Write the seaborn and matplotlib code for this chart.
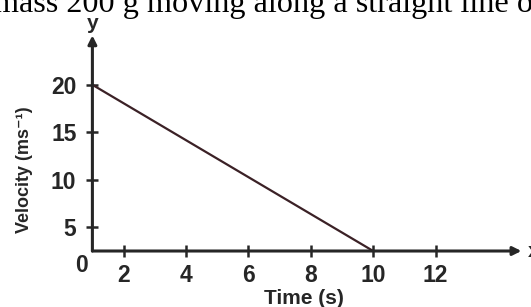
import numpy as np
import pandas as pd
import matplotlib
matplotlib.use("Agg")
import matplotlib.pyplot as plt
import seaborn as sns

# Data
time_s = [0, 10]
velocity = [20, 0]
x_ticks = [2, 4, 6, 8, 10, 12]
y_ticks = [5, 10, 15, 20]
caption = "mass 200 g moving along a straight line of"

sns.set_style("white")
plt.rcParams['font.family'] = ['Liberation Sans', 'DejaVu Sans']

df = pd.DataFrame({"time": time_s, "velocity": velocity})

# the sketch squeezes the first step of each axis (0-2 s, 0-5 m/s)
def fx(t):
    t = np.asarray(t, dtype=float)
    return np.where(t >= 2, t, 1 + t / 2)

def fx_inv(u):
    u = np.asarray(u, dtype=float)
    return np.where(u >= 2, u, (u - 1) * 2)

def fy(v):
    v = np.asarray(v, dtype=float)
    return np.where(v >= 5, v, 2.5 + v / 2)

def fy_inv(u):
    u = np.asarray(u, dtype=float)
    return np.where(u >= 5, u, (u - 2.5) * 2)

fig = plt.figure(figsize=(5.31, 3.07), dpi=100)
ax = fig.add_axes([0.174, 0.1824, 0.8226, 0.758])
ax.set_xscale("function", functions=(fx, fx_inv))
ax.set_yscale("function", functions=(fy, fy_inv))
ax.set_xlim(0, 15)
ax.set_ylim(0, 27)

ink = "#262626"
sns.lineplot(data=df, x="time", y="velocity", ax=ax, color="#3b2126", lw=1.6)

for s in ax.spines.values():
    s.set_visible(False)

# axes with arrow heads
ax.annotate("", xy=(14.75, 0), xytext=(0, 0),
            arrowprops=dict(arrowstyle="-|>,head_length=0.5,head_width=0.25",
                            lw=2.2, color=ink, shrinkA=0, shrinkB=0))
ax.annotate("", xy=(0, 25.2), xytext=(0, 0),
            arrowprops=dict(arrowstyle="-|>,head_length=0.5,head_width=0.25",
                            lw=2.2, color=ink, shrinkA=0, shrinkB=0))

ax.set_xticks(x_ticks)
ax.set_yticks(y_ticks)
ax.tick_params(axis="both", bottom=True, left=True, direction="inout",
               length=9, width=1.8, color=ink, labelsize=16.5, labelcolor=ink)
ax.tick_params(axis="x", pad=5)
ax.tick_params(axis="y", pad=7)
for lab in ax.get_xticklabels() + ax.get_yticklabels():
    lab.set_fontweight("bold")

ax.set_xlabel("")
ax.set_ylabel("")
fig.text(81 / 531, 1 - 265 / 307, "0", ha="center", va="center",
         fontsize=16.5, fontweight="bold", color=ink)
ax.text(0, 26.5, "y", ha="center", va="center", fontsize=15,
        fontweight="bold", color=ink)
ax.text(14.95, 0, "x", ha="left", va="center", fontsize=15,
        fontweight="bold", color=ink, clip_on=False)

fig.text(0.572, 1 - 299 / 307, "Time (s)", ha="center", va="center",
         fontsize=15, fontweight="bold", color=ink)
fig.text(0.047, 1 - 170 / 307, "Velocity (ms\u207b\u00b9)", ha="center",
         va="center", rotation=90, fontsize=13, fontweight="bold", color=ink)

fig.text(-0.012, 0.961, caption, ha="left", va="baseline", fontsize=23.2,
         family="Liberation Serif", color="black")

fig.savefig("out.png", dpi=100)
